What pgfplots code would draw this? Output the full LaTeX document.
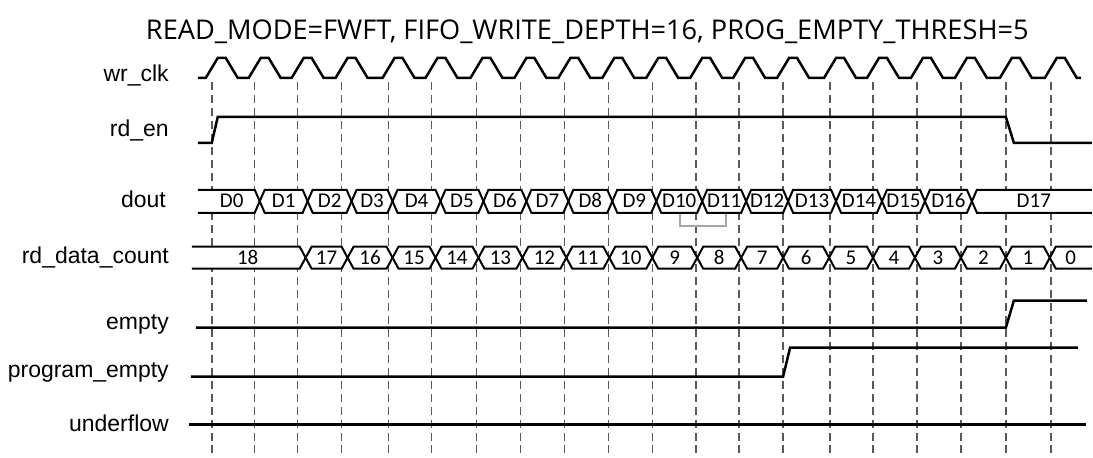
\documentclass[border=0pt]{standalone}
\usepackage{pgfplots}
\pgfplotsset{compat=1.18}
\usepackage{fontspec}
\setmainfont{Liberation Sans}
\newfontfamily\busfont{Carlito}
\newfontfamily\titlefont{Open Sans}
\tikzset{
  sig/.style={black, line width=1.25pt},
  bus/.style={black, line width=1pt},
  grid dash/.style={black!65, line width=0.75pt, dash pattern=on 4pt off 2.5pt},
  lab/.style={anchor=east, font=\fontsize{11.5pt}{13pt}\selectfont},
  val/.style={font=\busfont\fontsize{10.5pt}{12pt}\selectfont},
}

\begin{document}
\begin{tikzpicture}
\begin{axis}[
  width=546.5pt, height=229pt, scale only axis,
  xmin=0, xmax=1093, ymin=0, ymax=458, y dir=reverse,
  hide axis, clip=false,
]
\path (axis cs:0,0) rectangle (axis cs:1093,458);

% dashed clock-edge markers
\addplot[grid dash] coordinates {(212,82)(212,457)};
\addplot[grid dash] coordinates {(255,82)(255,457)};
\addplot[grid dash] coordinates {(298,82)(298,457)};
\addplot[grid dash] coordinates {(342,82)(342,457)};
\addplot[grid dash] coordinates {(389,82)(389,457)};
\addplot[grid dash] coordinates {(432,82)(432,457)};
\addplot[grid dash] coordinates {(477,82)(477,457)};
\addplot[grid dash] coordinates {(521,82)(521,457)};
\addplot[grid dash] coordinates {(565,82)(565,457)};
\addplot[grid dash] coordinates {(609,82)(609,457)};
\addplot[grid dash] coordinates {(653,82)(653,457)};
\addplot[grid dash] coordinates {(697,82)(697,457)};
\addplot[grid dash] coordinates {(740,82)(740,457)};
\addplot[grid dash] coordinates {(784,82)(784,457)};
\addplot[grid dash] coordinates {(831,82)(831,457)};
\addplot[grid dash] coordinates {(874,82)(874,457)};
\addplot[grid dash] coordinates {(918,82)(918,457)};
\addplot[grid dash] coordinates {(962,82)(962,457)};
\addplot[grid dash] coordinates {(1007,82)(1007,457)};
\addplot[grid dash] coordinates {(1052,82)(1052,457)};

% wr_clk
\addplot[sig] coordinates {
(198,78)
(206,78)(218,58)(226,58)(238,78)
(249,78)(261,58)(269,58)(281,78)
(292,78)(304,58)(312,58)(324,78)
(336,78)(348,58)(356,58)(368,78)
(383,78)(395,58)(403,58)(415,78)
(426,78)(438,58)(446,58)(458,78)
(471,78)(483,58)(491,58)(503,78)
(515,78)(527,58)(535,58)(547,78)
(559,78)(571,58)(579,58)(591,78)
(603,78)(615,58)(623,58)(635,78)
(647,78)(659,58)(667,58)(679,78)
(691,78)(703,58)(711,58)(723,78)
(734,78)(746,58)(754,58)(766,78)
(778,78)(790,58)(798,58)(810,78)
(825,78)(837,58)(845,58)(857,78)
(868,78)(880,58)(888,58)(900,78)
(912,78)(924,58)(932,58)(944,78)
(956,78)(968,58)(976,58)(988,78)
(1001,78)(1013,58)(1021,58)(1033,78)
(1046,78)(1058,58)(1066,58)(1078,78)
(1082,78)};

% rd_en
\addplot[sig] coordinates {(198,143)(212,143)(218,117)(1007,117)(1015,143)(1093,143)};

% dout bus (white fill then outline)
\addplot[fill=white, draw=none] coordinates {
(198,190) (255,190)(265,213) (303,213)(313,190) (347,190)(357,213) (388,213)(398,190) (436,190)(446,213) (479,213)(489,190) (522,190)(532,213) (564,213)(574,190) (608,190)(618,213) (652,213)(662,190) (698,190)(708,213) (742,213)(752,190) (784,190)(794,213) (832,213)(842,190) (878,190)(888,213) (921,213)(931,190) (968,190)(978,213) (1093,213)
(1093,190) (978,190)(968,213) (931,213)(921,190) (888,190)(878,213) (842,213)(832,190) (794,190)(784,213) (752,213)(742,190) (708,190)(698,213) (662,213)(652,190) (618,190)(608,213) (574,213)(564,190) (532,190)(522,213) (489,213)(479,190) (446,190)(436,213) (398,213)(388,190) (357,190)(347,213) (313,213)(303,190) (265,190)(255,213) (198,213)} -- cycle;
\addplot[bus] coordinates {
(198,190) (255,190)(265,213) (303,213)(313,190) (347,190)(357,213) (388,213)(398,190) (436,190)(446,213) (479,213)(489,190) (522,190)(532,213) (564,213)(574,190) (608,190)(618,213) (652,213)(662,190) (698,190)(708,213) (742,213)(752,190) (784,190)(794,213) (832,213)(842,190) (878,190)(888,213) (921,213)(931,190) (968,190)(978,213) (1093,213)};
\addplot[bus] coordinates {
(198,213) (255,213)(265,190) (303,190)(313,213) (347,213)(357,190) (388,190)(398,213) (436,213)(446,190) (479,190)(489,213) (522,213)(532,190) (564,190)(574,213) (608,213)(618,190) (652,190)(662,213) (698,213)(708,190) (742,190)(752,213) (784,213)(794,190) (832,190)(842,213) (878,213)(888,190) (921,190)(931,213) (968,213)(978,190) (1093,190)};

% grey bracket under D10/D11
\addplot[black!35, line width=0.8pt] coordinates {(681,214)(681,226)(727,226)(727,214)};

% rd_data_count bus
\addplot[fill=white, draw=none] coordinates {
(192,247) (300,247)(312,269) (342,269)(354,247) (387,247)(399,269) (430,269)(442,247) (473,247)(485,269) (517,269)(529,247) (561,247)(573,269) (604,269)(616,247) (647,247)(659,269) (692,269)(704,247) (736,247)(748,269) (778,269)(790,247) (824,247)(836,269) (868,269)(880,247) (910,247)(922,269) (956,269)(968,247) (1001,247)(1013,269) (1045,269)(1057,247) (1093,247)
(1093,269) (1057,269)(1045,247) (1013,247)(1001,269) (968,269)(956,247) (922,247)(910,269) (880,269)(868,247) (836,247)(824,269) (790,269)(778,247) (748,247)(736,269) (704,269)(692,247) (659,247)(647,269) (616,269)(604,247) (573,247)(561,269) (529,269)(517,247) (485,247)(473,269) (442,269)(430,247) (399,247)(387,269) (354,269)(342,247) (312,247)(300,269) (192,269)} -- cycle;
\addplot[bus] coordinates {
(192,247) (300,247)(312,269) (342,269)(354,247) (387,247)(399,269) (430,269)(442,247) (473,247)(485,269) (517,269)(529,247) (561,247)(573,269) (604,269)(616,247) (647,247)(659,269) (692,269)(704,247) (736,247)(748,269) (778,269)(790,247) (824,247)(836,269) (868,269)(880,247) (910,247)(922,269) (956,269)(968,247) (1001,247)(1013,269) (1045,269)(1057,247) (1093,247)};
\addplot[bus] coordinates {
(192,269) (300,269)(312,247) (342,247)(354,269) (387,269)(399,247) (430,247)(442,269) (473,269)(485,247) (517,247)(529,269) (561,269)(573,247) (604,247)(616,269) (647,269)(659,247) (692,247)(704,269) (736,269)(748,247) (778,247)(790,269) (824,269)(836,247) (868,247)(880,269) (910,269)(922,247) (956,247)(968,269) (1001,269)(1013,247) (1045,247)(1057,269) (1093,269)};

% empty, program_empty, underflow
\addplot[sig] coordinates {(196,328)(1007,328)(1015,301)(1088,301)};
\addplot[sig] coordinates {(191,377)(784,377)(791,348)(1079,348)};
\addplot[sig] coordinates {(189,425)(1087,425)};

% bus values
\node[val] at (axis cs:232,201) {D0};
\node[val] at (axis cs:284,201) {D1};
\node[val] at (axis cs:330,201) {D2};
\node[val] at (axis cs:372.5,201) {D3};
\node[val] at (axis cs:417,201) {D4};
\node[val] at (axis cs:462.5,201) {D5};
\node[val] at (axis cs:505.5,201) {D6};
\node[val] at (axis cs:548,201) {D7};
\node[val] at (axis cs:591,201) {D8};
\node[val] at (axis cs:635,201) {D9};
\node[val] at (axis cs:680,201) {D10};
\node[val] at (axis cs:725,201) {D11};
\node[val] at (axis cs:768,201) {D12};
\node[val] at (axis cs:813,201) {D13};
\node[val] at (axis cs:860,201) {D14};
\node[val] at (axis cs:904.5,201) {D15};
\node[val] at (axis cs:949.5,201) {D16};
\node[val] at (axis cs:1035,201) {D17};

\node[val] at (axis cs:248,258) {18};
\node[val] at (axis cs:327,258) {17};
\node[val] at (axis cs:370.5,258) {16};
\node[val] at (axis cs:414.5,258) {15};
\node[val] at (axis cs:457.5,258) {14};
\node[val] at (axis cs:501,258) {13};
\node[val] at (axis cs:545,258) {12};
\node[val] at (axis cs:588.5,258) {11};
\node[val] at (axis cs:631.5,258) {10};
\node[val] at (axis cs:675.5,258) {9};
\node[val] at (axis cs:720,258) {8};
\node[val] at (axis cs:763,258) {7};
\node[val] at (axis cs:807,258) {6};
\node[val] at (axis cs:852,258) {5};
\node[val] at (axis cs:895,258) {4};
\node[val] at (axis cs:939,258) {3};
\node[val] at (axis cs:984.5,258) {2};
\node[val] at (axis cs:1029,258) {1};
\node[val] at (axis cs:1072,258) {0};

% signal names
\node[lab] at (axis cs:176,76) {wr\_clk};
\node[lab] at (axis cs:176,131) {rd\_en};
\node[lab] at (axis cs:173,200) {dout};
\node[lab] at (axis cs:176,258) {rd\_data\_count};
\node[lab] at (axis cs:176,325) {empty};
\node[lab] at (axis cs:176,373) {program\_empty};
\node[lab] at (axis cs:176,424) {underflow};

% title
\node[font=\titlefont\fontsize{13.6pt}{15pt}\selectfont] at (axis cs:588,32) {READ\_MODE=FWFT, FIFO\_WRITE\_DEPTH=16, PROG\_EMPTY\_THRESH=5};
\end{axis}
\end{tikzpicture}
\end{document}
